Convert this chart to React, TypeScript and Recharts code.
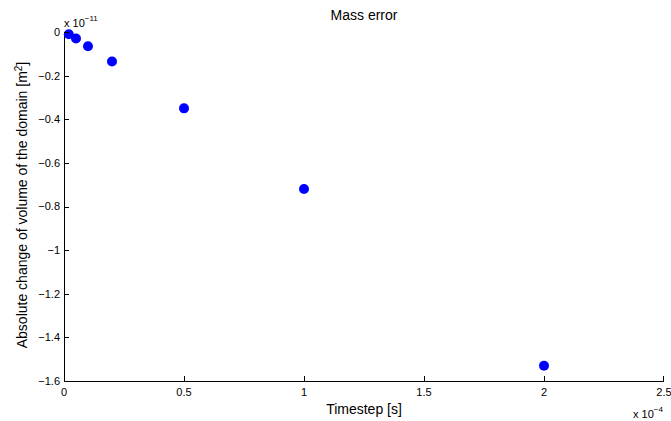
import { ScatterChart, Scatter, XAxis, YAxis, Customized } from 'recharts';

// timestep in units of 1e-4 s, volume change in units of 1e-11 m^2
const timesteps = [0.02, 0.05, 0.1, 0.2, 0.5, 1, 2];
const volumeChange = [-0.01, -0.03, -0.065, -0.135, -0.35, -0.72, -1.53];
const xTicks = [0, 0.5, 1, 1.5, 2, 2.5];
const yTicks = [0, -0.2, -0.4, -0.6, -0.8, -1, -1.2, -1.4, -1.6];

const FONT = '"Liberation Sans", Arial, Helvetica, sans-serif';
const AXIS = '#000';
const W = 671;
const H = 421;
const M = { top: 32, right: 7, bottom: 0, left: 0 };
const Y_AXIS_W = 64;
const X_AXIS_H = 40;
const PLOT_W = W - M.left - M.right - Y_AXIS_W;
const PLOT_H = H - M.top - M.bottom - X_AXIS_H;
const X_GAP = 7;
const Y_GAP = 4;
const TICK = 5;

const points = timesteps.map((t, i) => ({ t, v: volumeChange[i] }));

const fmt = (v: number) => (v < 0 ? '\u2212' + String(-v) : String(v));

// ticks point inwards like matlab; thin rects instead of lines
function XTick({ x, y, payload }: any) {
  const ay = Math.round(y - X_GAP);
  const ax = Math.min(Math.round(x), M.left + Y_AXIS_W + PLOT_W - 1);
  return (
    <g>
      <rect x={ax} y={ay - TICK} width={1} height={TICK} fill={AXIS} />
      <text x={x} y={y} dy="0.71em" textAnchor="middle" fontSize={11} fontFamily={FONT} fill="#000">
        {fmt(payload.value)}
      </text>
    </g>
  );
}

function YTick({ x, y, payload }: any) {
  const ax = Math.round(x + Y_GAP);
  const ay = Math.max(Math.round(y), M.top);
  return (
    <g>
      <rect x={ax} y={ay} width={TICK} height={1} fill={AXIS} />
      <text x={x} y={y} dy="0.355em" textAnchor="end" fontSize={11} fontFamily={FONT} fill="#000">
        {fmt(payload.value)}
      </text>
    </g>
  );
}

function Annotations() {
  const left = M.left + Y_AXIS_W;
  const bottom = M.top + PLOT_H;
  return (
    <g fontFamily={FONT} fill="#000">
      <rect x={left} y={M.top} width={1} height={PLOT_H + 1} fill={AXIS} />
      <rect x={left} y={bottom} width={PLOT_W} height={1} fill={AXIS} />
      <text x={364} y={20} fontSize={14} textAnchor="middle">Mass error</text>
      <text x={364} y={414} fontSize={14} textAnchor="middle">Timestep [s]</text>
      <text transform="translate(27,205) rotate(-90)" fontSize={14} textAnchor="middle">
        Absolute change of volume of the domain [m<tspan dy={-5} fontSize={10}>2</tspan><tspan dy={5}>]</tspan>
      </text>
      <text x={64} y={27} fontSize={11}>
        x 10<tspan dy={-6} fontSize={8}>{'\u221211'}</tspan>
      </text>
      <text x={633} y={418} fontSize={11}>
        x 10<tspan dy={-6} fontSize={8}>{'\u22124'}</tspan>
      </text>
    </g>
  );
}

export default function App() {
  return (
    <div style={{ position: 'absolute', left: 0, top: 0, width: W, height: H, background: '#fff' }}>
      <ScatterChart width={W} height={H} margin={M}>
        <XAxis
          type="number"
          dataKey="t"
          domain={[0, 2.5]}
          ticks={xTicks}
          height={X_AXIS_H}
          axisLine={false}
          tickLine={false}
          tickSize={0}
          tickMargin={X_GAP}
          tick={XTick}
          interval={0}
        />
        <YAxis
          type="number"
          dataKey="v"
          domain={[-1.6, 0]}
          ticks={yTicks}
          width={Y_AXIS_W}
          axisLine={false}
          tickLine={false}
          tickSize={0}
          tickMargin={Y_GAP}
          tick={YTick}
          interval={0}
        />
        <Scatter
          data={points}
          fill="#0000ff"
          isAnimationActive={false}
          shape={(p: any) => <circle cx={p.cx} cy={p.cy} r={5} fill="#0000ff" />}
        />
        <Customized component={Annotations} />
      </ScatterChart>
    </div>
  );
}
